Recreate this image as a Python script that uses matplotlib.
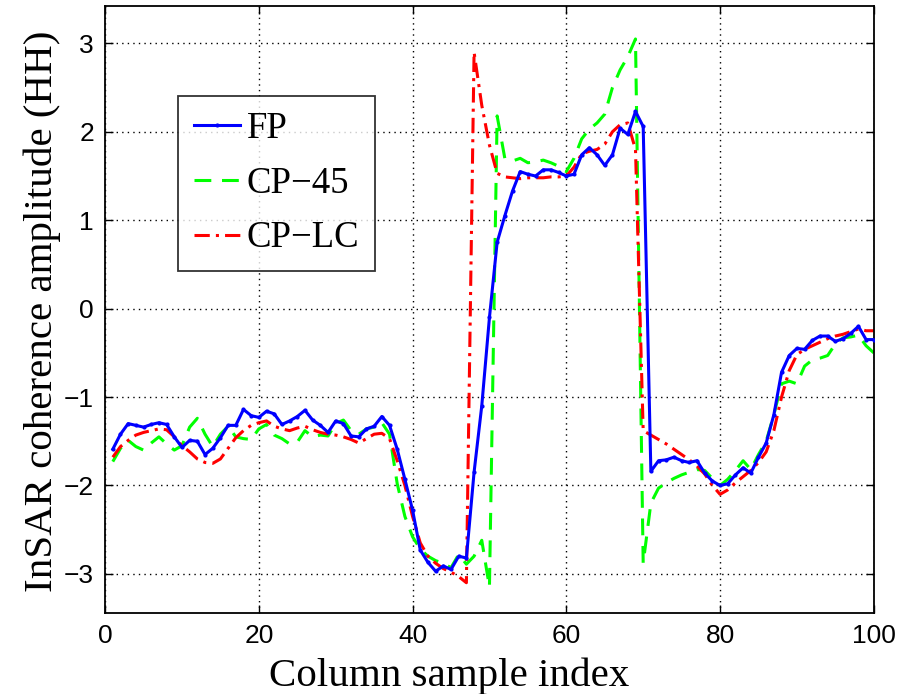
import numpy as np
import matplotlib
matplotlib.use("Agg")
import matplotlib.pyplot as plt

x = np.arange(1, 101)

fp = [-1.59, -1.42, -1.30, -1.32, -1.34, -1.31, -1.29, -1.31, -1.45, -1.57,
      -1.49, -1.50, -1.65, -1.58, -1.46, -1.32, -1.32, -1.14, -1.21, -1.23,
      -1.16, -1.19, -1.31, -1.27, -1.22, -1.15, -1.26, -1.32, -1.40, -1.27,
      -1.30, -1.44, -1.45, -1.36, -1.33, -1.22, -1.32, -1.59, -1.93, -2.28,
      -2.73, -2.87, -2.97, -2.91, -2.95, -2.80, -2.82, -1.85, -1.10, -0.10,
      0.75, 1.05, 1.33, 1.55, 1.52, 1.50, 1.57, 1.57, 1.54, 1.50,
      1.52, 1.74, 1.82, 1.74, 1.62, 1.74, 2.04, 1.97, 2.23, 2.06,
      -1.84, -1.72, -1.71, -1.68, -1.72, -1.74, -1.72, -1.86, -1.95, -2.00,
      -1.98, -1.88, -1.80, -1.86, -1.68, -1.52, -1.20, -0.72, -0.53, -0.45,
      -0.46, -0.36, -0.31, -0.31, -0.37, -0.34, -0.28, -0.20, -0.35, -0.35]

cp45 = [-1.73, -1.58, -1.49, -1.56, -1.60, -1.52, -1.45, -1.53, -1.60, -1.55,
        -1.34, -1.24, -1.42, -1.56, -1.42, -1.33, -1.45, -1.47, -1.48, -1.36,
        -1.31, -1.43, -1.47, -1.53, -1.51, -1.38, -1.45, -1.43, -1.44, -1.30,
        -1.26, -1.38, -1.42, -1.36, -1.34, -1.29, -1.42, -1.98, -2.35, -2.58,
        -2.72, -2.80, -2.85, -2.88, -2.93, -2.78, -2.89, -2.80, -2.62, -3.15,
        2.18, 1.70, 1.67, 1.70, 1.65, 1.66, 1.68, 1.65, 1.61, 1.55,
        1.70, 1.92, 2.03, 2.10, 2.20, 2.50, 2.70, 2.85, 3.05, -2.88,
        -2.20, -2.03, -1.97, -1.92, -1.88, -1.85, -1.82, -1.83, -1.92, -2.00,
        -1.93, -1.83, -1.72, -1.82, -1.65, -1.50, -1.20, -0.85, -0.82, -0.85,
        -0.65, -0.58, -0.56, -0.53, -0.40, -0.33, -0.32, -0.30, -0.42, -0.50]

cplc = [-1.68, -1.56, -1.49, -1.43, -1.40, -1.38, -1.36, -1.37, -1.45, -1.55,
        -1.62, -1.70, -1.74, -1.75, -1.70, -1.58, -1.46, -1.38, -1.32, -1.29,
        -1.27, -1.33, -1.36, -1.38, -1.35, -1.33, -1.37, -1.40, -1.42, -1.43,
        -1.45, -1.48, -1.52, -1.47, -1.42, -1.41, -1.47, -1.72, -2.00, -2.35,
        -2.65, -2.80, -2.88, -2.94, -2.98, -3.03, -3.10, 2.90, 2.30, 1.85,
        1.53, 1.49, 1.48, 1.47, 1.48, 1.48, 1.48, 1.49, 1.49, 1.50,
        1.60, 1.75, 1.78, 1.80, 1.86, 2.00, 2.08, 2.10, 1.80, -1.38,
        -1.43, -1.48, -1.53, -1.59, -1.65, -1.71, -1.78, -1.87, -2.00, -2.10,
        -2.05, -1.97, -1.90, -1.83, -1.74, -1.62, -1.38, -1.00, -0.70, -0.52,
        -0.46, -0.42, -0.38, -0.34, -0.31, -0.29, -0.26, -0.23, -0.25, -0.25]

labels = ["FP", "CP\u221245", "CP\u2212LC"]
xticks = [0, 20, 40, 60, 80, 100]
yticks = [-3, -2, -1, 0, 1, 2, 3]

fig = plt.figure(figsize=(9.14, 6.94), dpi=100)
ax = fig.add_axes([0.115, 0.117, 0.841, 0.874])

ax.plot(x, fp, color="#0000ff", lw=2.2, ls="-", marker=".", ms=4, label=labels[0], zorder=3)
ax.plot(x, cp45, color="#00ff00", lw=2.2, ls=(0, (5.5, 3.5)), label=labels[1], zorder=2)
ax.plot(x, cplc, color="#ff0000", lw=2.2, ls=(0, (5, 2, 1, 2)), label=labels[2], zorder=2)

ax.set_xlim(0, 100)
ax.set_ylim(-3.44, 3.42)
ax.set_xticks(xticks)
ax.set_yticks(yticks)
ax.grid(True, color="black", ls=(0, (1, 3)), lw=1.0)
ax.tick_params(direction="in", top=True, right=True, length=6, width=1.0,
               labelsize=19, pad=8)
for lab in ax.get_xticklabels() + ax.get_yticklabels():
    lab.set_family("Liberation Sans")
for s in ax.spines.values():
    s.set_linewidth(1.3)

ax.set_xlabel("Column sample index", family="Liberation Serif", fontsize=29.5)
ax.xaxis.set_label_coords(0.447, -0.073)
ax.set_ylabel("InSAR coherence amplitude (HH)", family="Liberation Serif", fontsize=29.5)
ax.yaxis.set_label_coords(-0.058, 0.497)

leg = ax.legend(loc="upper left", bbox_to_anchor=(0.095, 0.852),
                prop={"family": "Liberation Serif", "size": 26.5},
                frameon=True, fancybox=False, edgecolor="black",
                handlelength=1.25, handletextpad=0.2, borderpad=0.42,
                labelspacing=0.55, borderaxespad=0)
leg.get_frame().set_linewidth(1.3)

fig.savefig("out.png", dpi=100)
